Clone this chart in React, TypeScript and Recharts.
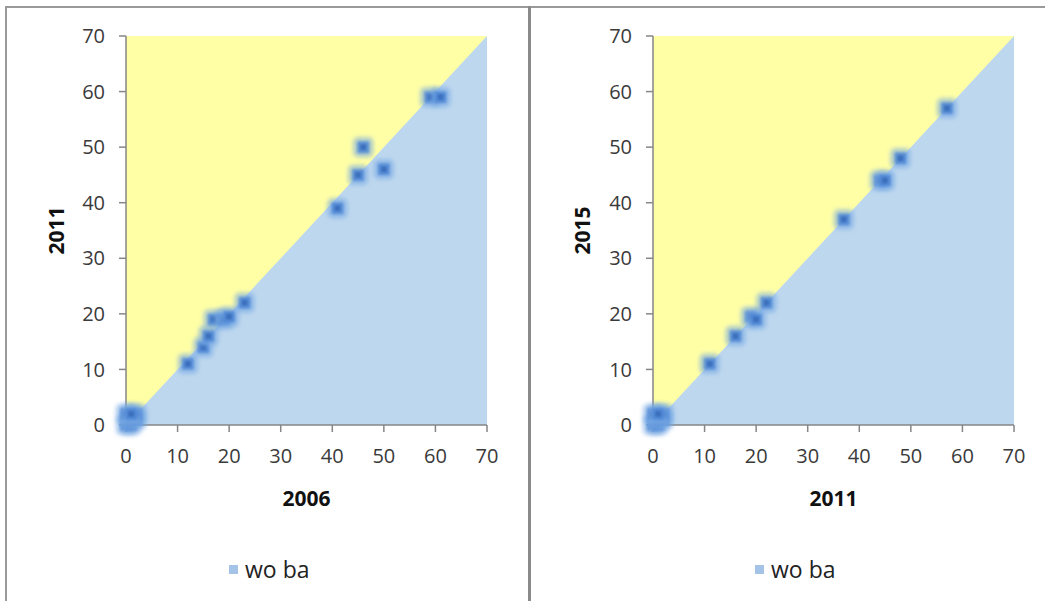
import { Area, ComposedChart, Scatter, XAxis, YAxis } from 'recharts'

// left panel: 2006 vs 2011
const x2006 = [0, 1, 2, 1, 0, 2, 1, 12, 15, 16, 17, 19, 20, 23, 41, 45, 46, 50, 59, 61]
const y2011 = [0, 0, 1, 1, 2, 2, 2, 11, 14, 16, 19, 19, 19.5, 22, 39, 45, 50, 46, 59, 59]

// right panel: 2011 vs 2015
const x2011 = [0, 1, 2, 1, 0, 2, 1, 11, 16, 19, 20, 22, 37, 44, 45, 48, 57]
const y2015 = [0, 0, 1, 1, 2, 2, 2, 11, 16, 19.5, 19, 22, 37, 44, 44, 48, 57]

const ticks = [0, 10, 20, 30, 40, 50, 60, 70]
const diagonal = [0, 70]

const font = '"Open Sans", "Liberation Sans", sans-serif'
const axisColor = '#868686'
const textColor = '#3a3a3a'
const yellow = '#FFFFA6'
const blue = '#BDD7EE'

const toPoints = (xs: number[], ys: number[]) => xs.map((x, i) => ({ x, y: ys[i] }))
const bg = diagonal.map((v) => ({ x: v, d: v, top: 70 }))

const Marker = (props: any) => {
  const { cx, cy } = props
  if (cx == null || cy == null) return null
  return (
    <g>
      <rect x={cx - 10} y={cy - 10} width={20} height={20} rx={5} fill="#74a6e2" fillOpacity={0.6} filter="url(#soft)" />
      <rect x={cx - 6} y={cy - 6} width={12} height={12} rx={2} fill="#4f88d6" fillOpacity={0.8} filter="url(#softer)" />
      <rect x={cx - 3} y={cy - 3} width={6} height={6} fill="#3a6fbd" filter="url(#softer)" />
    </g>
  )
}

interface PanelProps {
  left: number
  width: number
  yWidth: number
  marginRight: number
  legendLeft: number
  xTitle: string
  yTitle: string
  yTitleOffset: number
  xs: number[]
  ys: number[]
}

function Panel({ left, width, yWidth, marginRight, legendLeft, xTitle, yTitle, yTitleOffset, xs, ys }: PanelProps) {
  const tick = { fill: textColor, fontSize: 20, fontFamily: font }
  const titleStyle = { fontWeight: 'bold', fontSize: 21, fontFamily: font, fill: '#111' }
  return (
    <div style={{ position: 'absolute', left, top: 0, width, height: 601 }}>
      <ComposedChart
        width={width}
        height={601}
        data={bg}
        margin={{ top: 36, right: marginRight, left: 0, bottom: 91 }}
      >
        <XAxis
          dataKey="x"
          type="number"
          domain={[0, 70]}
          ticks={ticks}
          height={85}
          tickSize={7}
          tickMargin={17}
          tick={tick}
          stroke={axisColor}
          strokeWidth={1.5}
          label={{ value: xTitle, position: 'insideBottom', offset: 4, style: titleStyle }}
        />
        <YAxis
          type="number"
          domain={[0, 70]}
          ticks={ticks}
          width={yWidth}
          tickSize={7}
          tickMargin={14}
          tick={tick}
          stroke={axisColor}
          strokeWidth={1.5}
          label={{
            value: yTitle,
            angle: -90,
            position: 'insideLeft',
            offset: yTitleOffset,
            style: { ...titleStyle, textAnchor: 'middle' },
          }}
        />
        <Area dataKey="top" type="linear" fill={yellow} fillOpacity={1} stroke="none" isAnimationActive={false} />
        <Area dataKey="d" type="linear" fill={blue} fillOpacity={1} stroke="none" isAnimationActive={false} />
        <Scatter data={toPoints(xs, ys)} dataKey="y" shape={Marker} isAnimationActive={false} />
      </ComposedChart>
      <div
        style={{
          position: 'absolute',
          top: 553,
          left: legendLeft,
          display: 'flex',
          alignItems: 'center',
          fontFamily: font,
          fontSize: 23,
          color: '#222',
          whiteSpace: 'nowrap',
        }}
      >
        <span style={{ display: 'inline-block', width: 9, height: 9, background: '#A5C3E6', marginRight: 7 }} />
        wo ba
      </div>
    </div>
  )
}

export default function App() {
  return (
    <div style={{ position: 'absolute', left: 0, top: 0, width: 1045, height: 601, background: '#fff', overflow: 'hidden' }}>
      <svg width={0} height={0} style={{ position: 'absolute' }}>
        <defs>
          <filter id="soft" x="-50%" y="-50%" width="200%" height="200%">
            <feGaussianBlur stdDeviation="2" />
          </filter>
          <filter id="softer" x="-50%" y="-50%" width="200%" height="200%">
            <feGaussianBlur stdDeviation="0.8" />
          </filter>
        </defs>
      </svg>
      <div style={{ position: 'absolute', left: 5, top: 6, width: 1045, height: 620, borderTop: '2px solid #9a9a9a', borderLeft: '2px solid #9a9a9a' }} />
      <div style={{ position: 'absolute', left: 528, top: 6, width: 3, height: 620, background: '#8a8a8a' }} />
      <Panel left={0} width={530} yWidth={126} marginRight={43} legendLeft={229} xTitle="2006" yTitle="2011" yTitleOffset={57} xs={x2006} ys={y2011} />
      <Panel left={530} width={515} yWidth={123} marginRight={31} legendLeft={225} xTitle="2011" yTitle="2015" yTitleOffset={53} xs={x2011} ys={y2015} />
    </div>
  )
}
